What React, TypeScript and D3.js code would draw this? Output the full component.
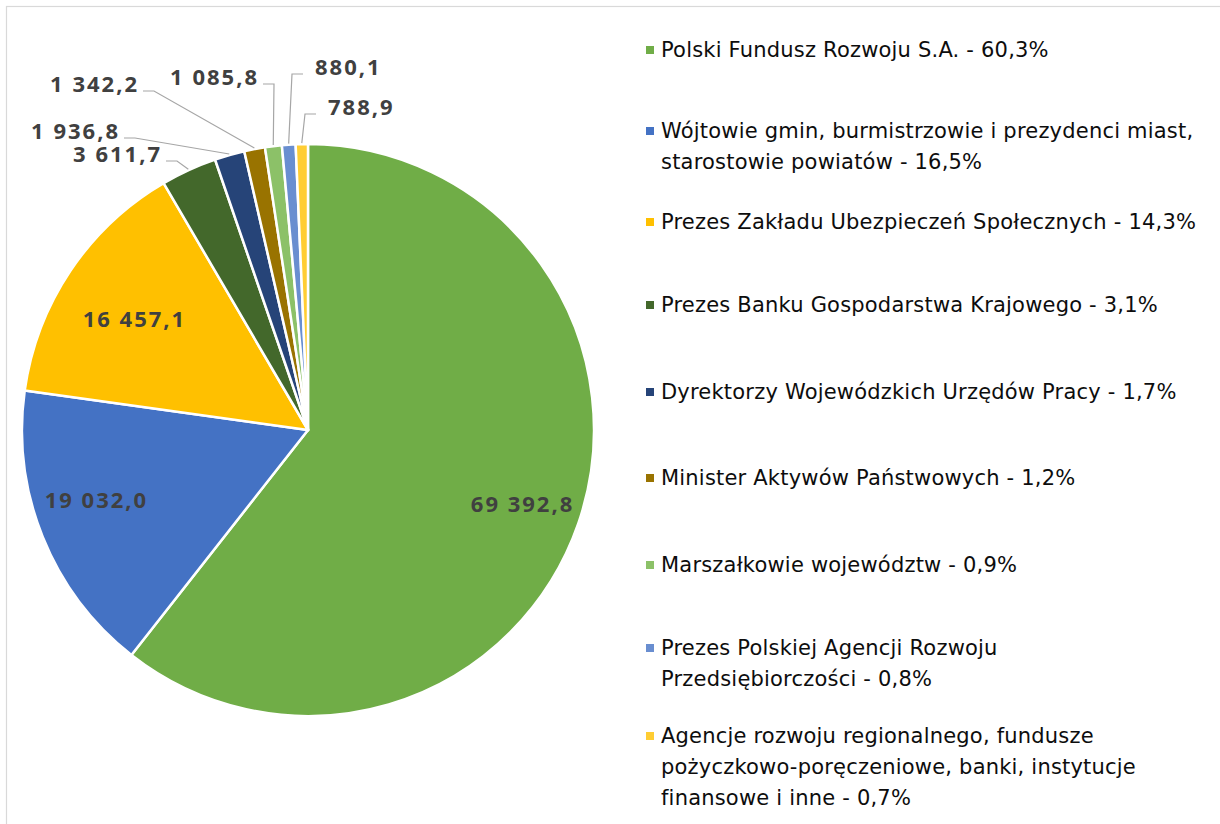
import { useRef, useEffect } from 'react';
import * as d3 from 'd3';

// values in mln zł, clockwise from 12 o'clock
const categories = [
    'Polski Fundusz Rozwoju S.A.',
    'Wójtowie gmin, burmistrzowie i prezydenci miast, starostowie powiatów',
    'Prezes Zakładu Ubezpieczeń Społecznych',
    'Prezes Banku Gospodarstwa Krajowego',
    'Dyrektorzy Wojewódzkich Urzędów Pracy',
    'Minister Aktywów Państwowych',
    'Marszałkowie województw',
    'Prezes Polskiej Agencji Rozwoju Przedsiębiorczości',
    'Agencje rozwoju regionalnego, fundusze pożyczkowo-poręczeniowe, banki, instytucje finansowe i inne',
];
const values = [69392.8, 19032.0, 16457.1, 3611.7, 1936.8, 1342.2, 1085.8, 880.1, 788.9];
const shares = ['60,3%', '16,5%', '14,3%', '3,1%', '1,7%', '1,2%', '0,9%', '0,8%', '0,7%'];
const valueLabels = ['69 392,8', '19 032,0', '16 457,1', '3 611,7', '1 936,8', '1 342,2', '1 085,8', '880,1', '788,9'];
const colors = ['#70AD47', '#4472C4', '#FFC000', '#43682B', '#264478', '#997300', '#8CC168', '#698ED0', '#FFCD33'];

// legend lines as wrapped in the original
const legendLines = [
    ['Polski Fundusz Rozwoju S.A. - 60,3%'],
    ['Wójtowie gmin, burmistrzowie i prezydenci miast,', 'starostowie powiatów - 16,5%'],
    ['Prezes Zakładu Ubezpieczeń Społecznych - 14,3%'],
    ['Prezes Banku Gospodarstwa Krajowego - 3,1%'],
    ['Dyrektorzy Wojewódzkich Urzędów Pracy - 1,7%'],
    ['Minister Aktywów Państwowych - 1,2%'],
    ['Marszałkowie województw - 0,9%'],
    ['Prezes Polskiej Agencji Rozwoju', 'Przedsiębiorczości - 0,8%'],
    ['Agencje rozwoju regionalnego, fundusze', 'pożyczkowo-poręczeniowe, banki, instytucje', 'finansowe i inne - 0,7%'],
];

export default function App() {
    const svgRef = useRef<SVGSVGElement>(null);
    const width = 1220;
    const height = 824;

    useEffect(() => {
        if (!svgRef.current) return;
        const svg = d3.select(svgRef.current);
        svg.selectAll('*').remove();

        const cx = 308;
        const cy = 430;
        const radius = 286;

        // chart frame
        svg.append('rect')
            .attr('x', 6.5)
            .attr('y', 6.5)
            .attr('width', width + 40)
            .attr('height', height + 40)
            .attr('fill', '#fff')
            .attr('stroke', '#d9d9d9')
            .attr('stroke-width', 1.2);

        const pie = d3.pie<number>().sort(null).value(d => d);
        const arcs = pie(values);
        const arc = d3.arc<d3.PieArcDatum<number>>().innerRadius(0).outerRadius(radius);

        const g = svg.append('g').attr('transform', `translate(${cx},${cy})`);

        g.selectAll('path.slice')
            .data(arcs)
            .join('path')
            .attr('class', 'slice')
            .attr('d', arc)
            .attr('fill', (_, i) => colors[i])
            .attr('stroke', '#fff')
            .attr('stroke-width', 2.5)
            .attr('stroke-linejoin', 'round');

        const labelFont = '"Open Sans", sans-serif';
        const labelSize = 22;
        const labelSpacing = 2;

        // inside labels for the three large slices (Excel best fit nudges)
        const insideNudge = [
            { ratio: 0.79, dx: 0, dy: 0 },
            { ratio: 0.79, dx: -3, dy: -14 },
            { ratio: 0.76, dx: 6, dy: 10 },
        ];
        insideNudge.forEach((n, i) => {
            const a = (arcs[i].startAngle + arcs[i].endAngle) / 2;
            const r = radius * n.ratio;
            g.append('text')
                .attr('x', Math.sin(a) * r + n.dx + labelSpacing / 2)
                .attr('y', -Math.cos(a) * r + n.dy)
                .attr('dy', '0.36em')
                .attr('text-anchor', 'middle')
                .attr('font-family', labelFont)
                .attr('font-weight', 700)
                .attr('font-size', labelSize)
                .attr('letter-spacing', labelSpacing)
                .attr('fill', '#404040')
                .text(valueLabels[i]);
        });

        // outside labels with leader lines (text positions in page pixels)
        const outsideLabels = [
            { i: 3, x: 160, y: 162, anchor: 'end' },
            { i: 4, x: 118, y: 139, anchor: 'end' },
            { i: 5, x: 137, y: 92, anchor: 'end' },
            { i: 6, x: 257, y: 85, anchor: 'end' },
            { i: 7, x: 315, y: 75, anchor: 'start' },
            { i: 8, x: 328, y: 115, anchor: 'start' },
        ];
        outsideLabels.forEach(l => {
            const a = (arcs[l.i].startAngle + arcs[l.i].endAngle) / 2;
            const px = cx + Math.sin(a) * (radius + 1);
            const py = cy - Math.cos(a) * (radius + 1);
            const lx = l.anchor === 'end' ? l.x + 6 : l.x - 12;
            const ex = l.anchor === 'end' ? lx + 11 : lx - 11;
            const ly = l.y - 1;
            svg.append('path')
                .attr('d', `M${lx},${ly}L${ex},${ly}L${px},${py}`)
                .attr('fill', 'none')
                .attr('stroke', '#a6a6a6')
                .attr('stroke-width', 1.2);
            svg.append('text')
                .attr('x', l.anchor === 'end' ? l.x + labelSpacing : l.x)
                .attr('y', l.y)
                .attr('text-anchor', l.anchor)
                .attr('font-family', labelFont)
                .attr('font-weight', 700)
                .attr('font-size', labelSize)
                .attr('letter-spacing', labelSpacing)
                .attr('fill', '#404040')
                .text(valueLabels[l.i]);
        });

        // legend
        const legendX = 646;
        const legendY = [50, 131, 222, 305, 392, 478, 565, 648, 736];
        const lineH = 31;
        const legend = svg.append('g').attr('class', 'legend');
        legendLines.forEach((lines, i) => {
            legend.append('rect')
                .attr('x', legendX)
                .attr('y', legendY[i] - 4)
                .attr('width', 8)
                .attr('height', 8)
                .attr('fill', colors[i]);
            lines.forEach((t, j) => {
                legend.append('text')
                    .attr('x', legendX + 15)
                    .attr('y', legendY[i] + j * lineH)
                    .attr('dy', '0.35em')
                    .attr('font-family', '"DejaVu Sans", sans-serif')
                    .attr('font-size', 21)
                    .attr('letter-spacing', 0.2)
                    .attr('fill', '#0d0d0d')
                    .text(t);
            });
        });
    }, []);

    return (
        <svg
            ref={svgRef}
            width={width}
            height={height}
            style={{ position: 'absolute', left: 0, top: 0 }}
            aria-label={categories.join('; ') + ' ' + shares.join(' ')}
        />
    );
}
